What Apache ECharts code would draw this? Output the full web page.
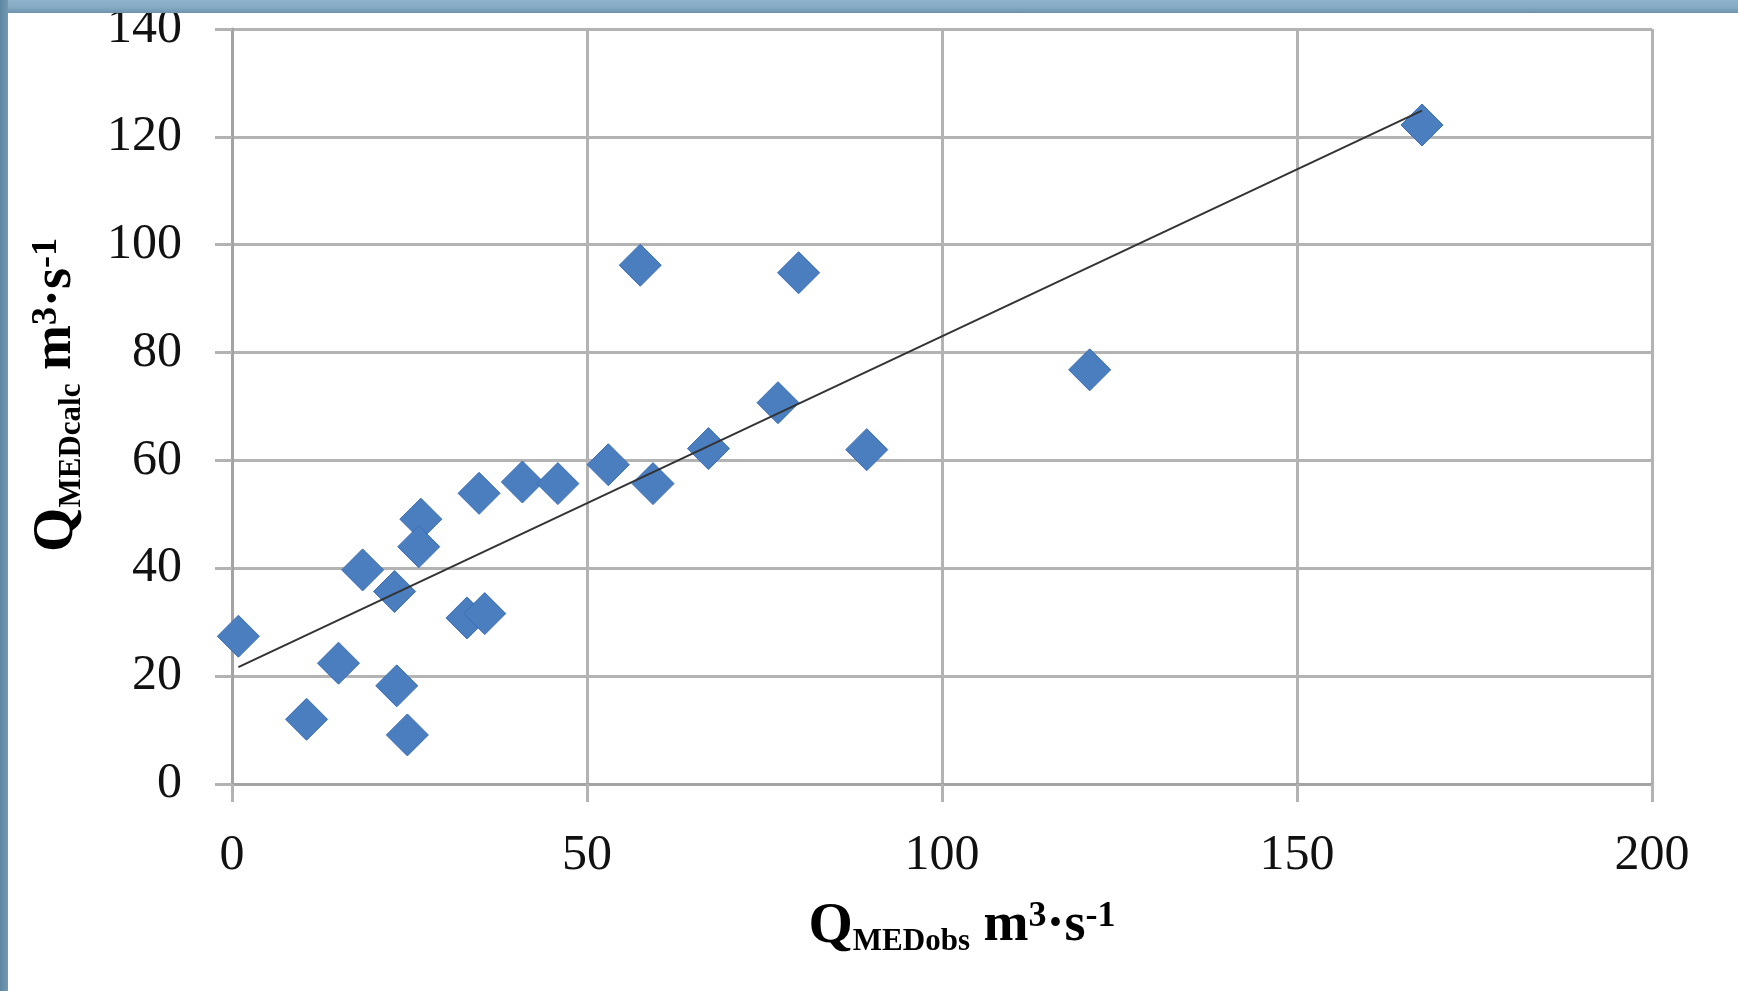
<!DOCTYPE html>
<html>
<head>
<meta charset="utf-8">
<title>QMEDcalc vs QMEDobs</title>
<script src="https://cdn.jsdelivr.net/npm/echarts@6/dist/echarts.min.js"></script>
<style>
  html, body { margin: 0; padding: 0; background: #ffffff; }
  #frameTop { position: absolute; left: 0; top: 0; width: 1738px; height: 13px;
    background: linear-gradient(to bottom, #8fb3cc 0%, #86a9c2 60%, #6e92ac 100%); z-index: 2; }
  #frameLeft { position: absolute; left: 0; top: 0; width: 8px; height: 991px;
    background: linear-gradient(to right, #5d86a1 0%, #7499b2 100%); z-index: 2; }
  #chart { position: absolute; left: 0; top: 0; width: 1738px; height: 991px; }
</style>
</head>
<body>
<div id="chart"></div>
<div id="frameTop"></div>
<div id="frameLeft"></div>
<script>
// Observed median discharge (m3/s)
const obsValues = [0.9, 15.0, 10.5, 23.2, 24.7, 18.4, 22.9, 26.6, 26.3, 33.1, 35.6, 34.8,
                   40.9, 45.9, 53.0, 59.3, 57.5, 79.8, 76.9, 67.1, 89.4, 120.8, 167.6];
// Calculated median discharge (m3/s)
const calcValues = [27.4, 22.4, 12.0, 18.2, 9.1, 39.7, 35.7, 49.1, 44.0, 30.8, 31.6, 53.9,
                    56.0, 55.7, 59.2, 55.7, 96.2, 94.8, 70.7, 62.2, 62.0, 76.8, 122.2];
const xTicks = { min: 0, max: 200, interval: 50 };
const yTicks = { min: 0, max: 140, interval: 20 };

const points = obsValues.map((x, i) => [x, calcValues[i]]);

// Least-squares linear trend over the observed range
const n = obsValues.length;
const mx = obsValues.reduce((a, b) => a + b, 0) / n;
const my = calcValues.reduce((a, b) => a + b, 0) / n;
let sxy = 0, sxx = 0;
for (let i = 0; i < n; i++) {
  sxy += (obsValues[i] - mx) * (calcValues[i] - my);
  sxx += (obsValues[i] - mx) * (obsValues[i] - mx);
}
const slope = sxy / sxx;
const intercept = my - slope * mx;
const xLo = Math.min(...obsValues), xHi = Math.max(...obsValues);
const trend = [[xLo, intercept + slope * xLo], [xHi, intercept + slope * xHi]];

const serif = "'Liberation Serif', 'DejaVu Serif', serif";
const gridColor = '#b3b3b3';

// Axis titles: Q with subscript, then units m³·s⁻¹
const titleRich = {
  q:   { fontFamily: serif, fontSize: 57, fontWeight: 'bold', color: '#111', verticalAlign: 'top', lineHeight: 58 },
  sub: { fontFamily: serif, fontSize: 31, fontWeight: 'bold', color: '#111', verticalAlign: 'bottom', lineHeight: 30 },
  m:   { fontFamily: serif, fontSize: 54, fontWeight: 'bold', color: '#111', verticalAlign: 'top', lineHeight: 58 },
  sup: { fontFamily: serif, fontSize: 36, fontWeight: 'bold', color: '#111', verticalAlign: 'top', lineHeight: 34 }
};
const xTitle = '{q|Q}{sub|MEDobs}{m| m}{sup|3}{m|·s}{sup|-1}';
const yTitle = '{q|Q}{sub|MEDcalc}{m| m}{sup|3}{m|·s}{sup|-1}';

const chart = echarts.init(document.getElementById('chart'), null, { renderer: 'canvas' });
chart.setOption({
  backgroundColor: '#ffffff',
  animation: false,
  grid: { left: 232, right: 86, top: 29, bottom: 207, containLabel: false },
  xAxis: {
    type: 'value', min: xTicks.min, max: xTicks.max, interval: xTicks.interval,
    axisLine: { show: true, lineStyle: { color: '#a3a3a3', width: 3 } },
    axisTick: { show: true, inside: false, length: 18, lineStyle: { color: gridColor, width: 3 } },
    axisLabel: { margin: 47, fontFamily: serif, fontSize: 50, color: '#111' },
    splitLine: { show: true, lineStyle: { color: gridColor, width: 3 } }
  },
  yAxis: {
    type: 'value', min: yTicks.min, max: yTicks.max, interval: yTicks.interval,
    axisLine: { show: true, lineStyle: { color: '#a3a3a3', width: 3 } },
    axisTick: { show: true, inside: false, length: 17, lineStyle: { color: gridColor, width: 3 } },
    axisLabel: { margin: 50, fontFamily: serif, fontSize: 50, color: '#111' },
    splitLine: { show: true, lineStyle: { color: gridColor, width: 3 } }
  },
  graphic: [
    {
      type: 'text', x: 962, y: 928, z: 10,
      style: { text: xTitle, rich: titleRich, align: 'center', verticalAlign: 'middle' }
    },
    {
      type: 'text', x: 58, y: 395, rotation: Math.PI / 2, z: 10,
      style: { text: yTitle, rich: titleRich, align: 'center', verticalAlign: 'middle' }
    }
  ],
  series: [
    {
      type: 'scatter', data: points, symbol: 'diamond', symbolSize: 42, z: 2,
      itemStyle: { color: '#4a7ebf', opacity: 1, borderColor: '#3a6db6', borderWidth: 1 }
    },
    {
      type: 'line', data: trend, symbol: 'none', z: 3,
      lineStyle: { color: '#333333', width: 2 }
    }
  ]
});
</script>
</body>
</html>
